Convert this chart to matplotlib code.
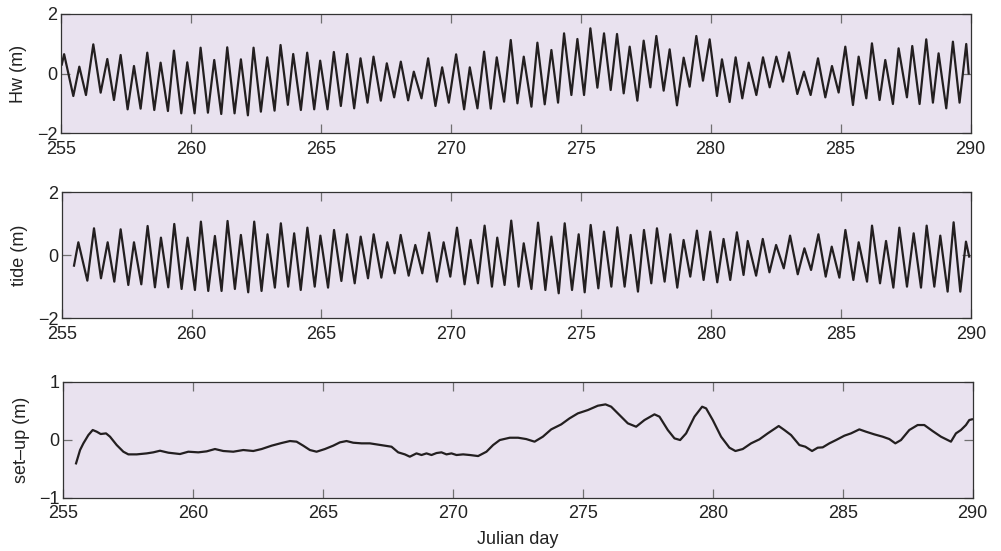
import matplotlib
matplotlib.use("Agg")
import matplotlib.pyplot as plt

plt.rcParams['font.family'] = ['Liberation Sans', 'DejaVu Sans']

# ---------------- data ----------------
# Panel 1: Hw (m) -- turning points (Julian day, value)
hw_day = [255.03, 255.12, 255.474, 255.705, 255.961, 256.243, 256.526, 256.782, 257.038, 257.295,
          257.564, 257.808, 258.064, 258.320, 258.590, 258.833, 259.115, 259.346, 259.628, 259.859,
          260.141, 260.372, 260.654, 260.897, 261.167, 261.397, 261.679, 261.923, 262.192, 262.410,
          262.692, 262.936, 263.218, 263.449, 263.731, 263.936, 264.231, 264.474, 264.744, 264.974,
          265.256, 265.500, 265.769, 266.013, 266.282, 266.526, 266.795, 267.026, 267.308, 267.538,
          267.821, 268.077, 268.359, 268.577, 268.872, 269.128, 269.410, 269.667, 269.923, 270.205,
          270.513, 270.731, 271.026, 271.282, 271.538, 271.769, 272.051, 272.308, 272.564, 272.808,
          273.103, 273.333, 273.615, 273.872, 274.128, 274.359, 274.641, 274.872, 275.128, 275.372,
          275.641, 275.897, 276.154, 276.397, 276.654, 276.885, 277.180, 277.423, 277.680, 277.910,
          278.192, 278.423, 278.705, 278.962, 279.192, 279.449, 279.705, 279.962, 280.244, 280.436,
          280.731, 280.962, 281.218, 281.464, 281.759, 282.015, 282.272, 282.528, 282.784, 283.015,
          283.336, 283.592, 283.848, 284.131, 284.413, 284.669, 284.925, 285.182, 285.477, 285.695,
          285.990, 286.207, 286.502, 286.720, 287.015, 287.233, 287.554, 287.759, 288.041, 288.297,
          288.554, 288.772, 289.067, 289.323, 289.579, 289.836, 289.93]
hw_val = [0.30, 0.65, -0.756, 0.230, -0.723, 0.980, -0.644, 0.487, -0.891, 0.622,
          -1.205, 0.252, -1.182, 0.700, -1.227, 0.364, -1.261, 0.768, -1.339, 0.375,
          -1.339, 0.868, -1.317, 0.454, -1.361, 0.880, -1.339, 0.476, -1.406, 0.868,
          -1.283, 0.543, -1.249, 0.958, -1.053, 0.655, -1.227, 0.700, -1.204, 0.431,
          -1.204, 0.723, -1.092, 0.655, -1.171, 0.510, -0.980, 0.566, -0.913, 0.342,
          -0.801, 0.398, -0.902, 0.062, -0.835, 0.510, -1.092, 0.207, -0.980, 0.644,
          -1.204, 0.207, -1.171, 0.734, -1.182, 0.543, -0.947, 1.126, -1.003, 0.566,
          -1.115, 1.036, -1.036, 0.790, -0.980, 1.350, -0.723, 1.160, -0.723, 1.518,
          -0.476, 1.350, -0.555, 1.328, -0.667, 0.902, -0.913, 1.104, -0.465, 1.261,
          -0.577, 0.812, -1.070, 0.532, -0.443, 1.261, -0.241, 1.148, -0.756, 0.476,
          -0.958, 0.543, -0.835, 0.364, -0.723, 0.543, -0.465, 0.566, -0.275, 0.711,
          -0.689, 0.062, -0.723, 0.510, -0.801, 0.252, -0.639, 0.902, -1.059, 0.566,
          -0.835, 1.014, -0.891, 0.454, -1.025, 0.846, -0.801, 0.924, -1.025, 1.148,
          -0.980, 0.678, -1.171, 1.070, -0.980, 0.992, 0.0]

# Panel 2: tide (m) -- turning points
tide_day = [255.474, 255.641, 255.987, 256.243, 256.512, 256.769, 257.025, 257.269, 257.564, 257.782,
            258.064, 258.307, 258.589, 258.820, 259.102, 259.333, 259.615, 259.846, 260.128, 260.358,
            260.641, 260.897, 261.153, 261.384, 261.666, 261.897, 262.179, 262.410, 262.692, 262.922,
            263.205, 263.435, 263.718, 263.948, 264.201, 264.457, 264.739, 264.957, 265.252, 265.483,
            265.765, 265.983, 266.278, 266.508, 266.790, 267.008, 267.303, 267.534, 267.816, 268.047,
            268.355, 268.611, 268.880, 269.137, 269.444, 269.701, 269.957, 270.214, 270.508, 270.739,
            271.021, 271.278, 271.560, 271.765, 272.047, 272.303, 272.585, 272.784, 273.079, 273.335,
            273.617, 273.848, 274.130, 274.361, 274.643, 274.899, 275.130, 275.361, 275.656, 275.874,
            276.156, 276.386, 276.668, 276.899, 277.181, 277.412, 277.694, 277.912, 278.207, 278.425,
            278.694, 278.938, 279.194, 279.450, 279.707, 279.963, 280.233, 280.476, 280.733, 280.989,
            281.245, 281.408, 281.729, 281.985, 282.242, 282.498, 282.793, 283.036, 283.331, 283.588,
            283.844, 284.126, 284.408, 284.639, 284.934, 285.165, 285.472, 285.677, 285.998, 286.190,
            286.498, 286.729, 287.011, 287.242, 287.536, 287.793, 288.075, 288.293, 288.588, 288.818,
            289.100, 289.331, 289.588, 289.806, 289.93]
tide_val = [-0.328, 0.413, -0.804, 0.857, -0.730, 0.413, -0.836, 0.825, -0.942, 0.413,
            -0.921, 0.931, -1.016, 0.561, -1.016, 0.995, -1.069, 0.561, -1.101, 1.069,
            -1.132, 0.614, -1.132, 1.090, -1.069, 0.646, -1.175, 1.069, -1.132, 0.667,
            -1.026, 1.016, -0.995, 0.698, -1.101, 0.878, -0.995, 0.624, -1.026, 0.804,
            -0.815, 0.667, -0.889, 0.593, -0.730, 0.667, -0.709, 0.413, -0.571, 0.646,
            -0.646, 0.328, -0.571, 0.720, -0.836, 0.413, -0.677, 0.878, -0.921, 0.487,
            -0.889, 0.942, -0.995, 0.561, -0.942, 1.101, -0.995, 0.381, -1.069, 1.037,
            -1.101, 0.593, -1.206, 1.016, -1.101, 0.667, -1.175, 0.963, -1.048, 0.751,
            -0.995, 0.889, -0.995, 0.646, -1.153, 0.804, -0.889, 0.857, -0.836, 0.667,
            -1.026, 0.487, -0.677, 0.783, -0.783, 0.751, -0.857, 0.519, -0.783, 0.730,
            -0.624, 0.455, -0.646, 0.519, -0.540, 0.328, -0.413, 0.624, -0.603, 0.222,
            -0.466, 0.667, -0.677, 0.275, -0.709, 0.804, -0.783, 0.413, -0.836, 0.942,
            -0.889, 0.455, -1.026, 0.878, -0.995, 0.698, -1.026, 0.942, -0.995, 0.624,
            -1.153, 1.048, -1.153, 0.434, -0.04]

# Panel 3: set-up (m)
setup_day = [255.491, 255.645, 255.773, 255.965, 256.132, 256.286, 256.440, 256.645, 256.798, 257.055,
             257.311, 257.504, 257.824, 258.209, 258.465, 258.722, 259.042, 259.491, 259.811, 260.196,
             260.517, 260.837, 261.158, 261.542, 261.927, 262.311, 262.632, 263.017, 263.401, 263.722,
             263.978, 264.234, 264.491, 264.747, 265.068, 265.388, 265.645, 265.901, 266.158, 266.478,
             266.798, 267.055, 267.375, 267.632, 267.888, 268.145, 268.337, 268.593, 268.786, 268.978,
             269.170, 269.363, 269.555, 269.747, 269.940, 270.132, 270.388, 270.645, 270.965, 271.286,
             271.542, 271.798, 272.183, 272.504, 272.816, 273.137, 273.457, 273.778, 274.163, 274.483,
             274.804, 275.188, 275.573, 275.868, 276.086, 276.406, 276.727, 277.047, 277.368, 277.752,
             277.945, 278.265, 278.522, 278.740, 278.970, 279.291, 279.586, 279.740, 279.996, 280.316,
             280.637, 280.868, 281.150, 281.470, 281.791, 282.111, 282.304, 282.534, 282.752, 283.009,
             283.329, 283.560, 283.817, 284.034, 284.227, 284.483, 284.740, 285.060, 285.316, 285.637,
             285.893, 286.214, 286.534, 286.791, 287.022, 287.240, 287.560, 287.881, 288.137, 288.458,
             288.778, 289.035, 289.163, 289.355, 289.547, 289.740, 289.868, 289.97]
setup_val = [-0.408, -0.178, -0.063, 0.080, 0.167, 0.138, 0.098, 0.109, 0.052, -0.092,
             -0.207, -0.253, -0.253, -0.236, -0.218, -0.190, -0.224, -0.247, -0.207, -0.218,
             -0.201, -0.161, -0.195, -0.207, -0.178, -0.195, -0.161, -0.103, -0.057, -0.023,
             -0.034, -0.103, -0.178, -0.207, -0.161, -0.103, -0.046, -0.023, -0.052, -0.063,
             -0.063, -0.080, -0.103, -0.121, -0.218, -0.253, -0.293, -0.236, -0.264, -0.236,
             -0.264, -0.230, -0.218, -0.253, -0.236, -0.264, -0.253, -0.264, -0.282, -0.207,
             -0.092, -0.006, 0.034, 0.034, 0.011, -0.034, 0.052, 0.178, 0.264, 0.368,
             0.454, 0.511, 0.586, 0.609, 0.569, 0.425, 0.282, 0.224, 0.339, 0.437,
             0.397, 0.167, 0.023, -0.006, 0.109, 0.397, 0.569, 0.540, 0.339, 0.052,
             -0.138, -0.195, -0.161, -0.063, 0.006, 0.109, 0.167, 0.236, 0.167, 0.080,
             -0.092, -0.121, -0.195, -0.138, -0.132, -0.063, -0.006, 0.069, 0.109, 0.178,
             0.138, 0.092, 0.052, 0.011, -0.063, -0.006, 0.167, 0.253, 0.253, 0.149,
             0.052, -0.006, -0.034, 0.109, 0.167, 0.253, 0.339, 0.351]

x_ticks = [255, 260, 265, 270, 275, 280, 285, 290]
ylabels = ["Hw (m)", "tide (m)", "set\u2013up (m)"]
ylims = [(-2, 2), (-2, 2), (-1, 1)]
yticks = [[-2, 0, 2], [-2, 0, 2], [-1, 0, 1]]

# ---------------- figure ----------------
W, H = 1001, 551
fig = plt.figure(figsize=(W / 100, H / 100), dpi=100)
bg = '#E9E2EF'
line_c = '#231F20'
frame_c = '#333333'
txt_c = '#222222'
fs = 13

# axes boxes in pixels: left, right, top, bottom
boxes = [(61, 970.5, 14, 133), (61.7, 971, 192.3, 318.3), (63.3, 972.7, 381.7, 497.7)]
series = [(hw_day, hw_val), (tide_day, tide_val), (setup_day, setup_val)]

for i, ((l, r, t, b), (xd, yd)) in enumerate(zip(boxes, series)):
    ax = fig.add_axes([l / W, 1 - b / H, (r - l) / W, (b - t) / H])
    ax.set_facecolor(bg)
    ax.plot(xd, yd, color=line_c, lw=1.6, solid_joinstyle='round')
    ax.set_xlim(255, 290)
    ax.set_ylim(*ylims[i])
    ax.set_xticks(x_ticks)
    ax.set_yticks(yticks[i])
    ax.set_yticklabels([f"{v:g}".replace('-', '\u2212') for v in yticks[i]])
    ax.tick_params(direction='in', length=6.5, width=0.9, color='#707070',
                   top=True, right=True, labelsize=fs, labelcolor=txt_c)
    ax.tick_params(axis='x', pad=5.5)
    ax.tick_params(axis='y', pad=2.5)
    for s in ax.spines.values():
        s.set_color(frame_c)
        s.set_linewidth(0.9)
    ax.set_ylabel(ylabels[i], fontsize=fs, color=txt_c)
    ax.yaxis.set_label_coords(-0.037, 0.5)
    if i == 2:
        ax.set_xlabel("Julian day", fontsize=fs, color=txt_c, labelpad=6)

fig.savefig("out.png", dpi=100, facecolor='white')
